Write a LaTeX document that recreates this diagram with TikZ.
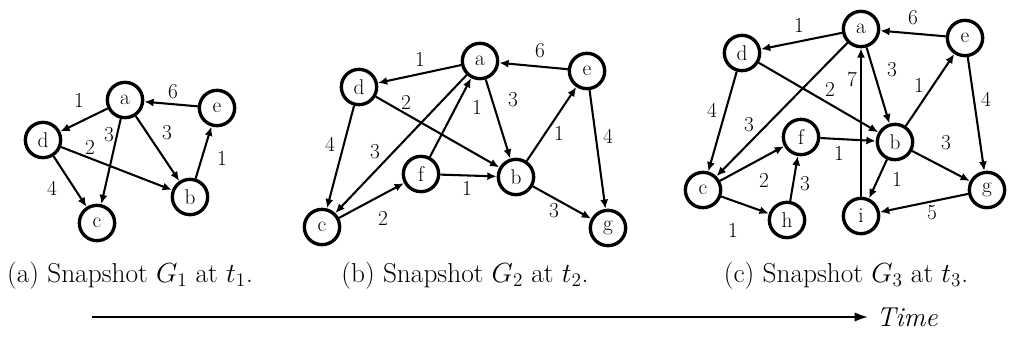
\documentclass[tikz,border=0pt]{standalone}
\usetikzlibrary{arrows.meta}
\begin{document}
\begin{tikzpicture}[x=0.75pt,y=-0.75pt,
  vtx/.style={circle,draw,line width=2.5pt,minimum size=26.5pt,inner sep=0pt,font=\fontsize{16}{18}\selectfont},
  arc/.style={line width=1.55pt,-{Latex[length=7pt,width=6pt]}},
  wt/.style={font=\fontsize{16}{18}\selectfont,inner sep=0pt},
  captext/.style={font=\fontsize{20.5}{24}\selectfont,inner sep=0pt,anchor=base}]
\useasboundingbox (0,0) rectangle (1009,337);

% ---------- G1 ----------
\node[vtx] (a1) at (125,100) {a};
\node[vtx] (e1) at (217,108) {e};
\node[vtx] (d1) at (43,140) {d};
\node[vtx] (b1) at (190,197) {b};
\node[vtx] (c1) at (97,223) {c};
\draw[arc] (a1) -- (d1);
\draw[arc] (e1) -- (a1);
\draw[arc] (a1) -- (c1);
\draw[arc] (a1) -- (b1);
\draw[arc] (d1) -- (b1);
\draw[arc] (d1) -- (c1);
\draw[arc] (b1) -- (e1);
\node[wt] (w1a) at (79,100) {1};
\node[wt] (w1b) at (173,92) {6};
\node[wt] (w1c) at (109,135) {3};
\node[wt] (w1d) at (167,133) {3};
\node[wt] (w1e) at (90,147) {2};
\node[wt] (w1f) at (52,188) {4};
\node[wt] (w1g) at (222,158) {1};

% ---------- G2 ----------
\node[vtx] (a2) at (480,61) {a};
\node[vtx] (d2) at (359,87) {d};
\node[vtx] (e2) at (587,71) {e};
\node[vtx] (f2) at (421,174) {f};
\node[vtx] (b2) at (516,177) {b};
\node[vtx] (c2) at (322,227) {c};
\node[vtx] (g2) at (608,228) {g};
\draw[arc] (a2) -- (d2);
\draw[arc] (e2) -- (a2);
\draw[arc] (a2) -- (b2);
\draw[arc] (a2) -- (c2);
\draw[arc] (f2) -- (a2);
\draw[arc] (d2) -- (b2);
\draw[arc] (d2) -- (c2);
\draw[arc] (c2) -- (f2);
\draw[arc] (f2) -- (b2);
\draw[arc] (b2) -- (e2);
\draw[arc] (b2) -- (g2);
\draw[arc] (e2) -- (g2);
\node[wt] (w2a) at (420,59) {1};
\node[wt] (w2b) at (540,51) {6};
\node[wt] (w2c) at (513,100) {3};
\node[wt] (w2d) at (477,107) {1};
\node[wt] (w2e) at (406,102) {2};
\node[wt] (w2f) at (330,144) {4};
\node[wt] (w2g) at (375,152) {3};
\node[wt] (w2h) at (559,133) {1};
\node[wt] (w2i) at (608,136) {4};
\node[wt] (w2j) at (467,188) {1};
\node[wt] (w2k) at (554,211) {3};
\node[wt] (w2l) at (383,218) {2};

% ---------- G3 ----------
\node[vtx] (a3) at (861,29) {a};
\node[vtx] (d3) at (742,53) {d};
\node[vtx] (e3) at (965,38) {e};
\node[vtx] (f3) at (801,137) {f};
\node[vtx] (b3) at (895,142) {b};
\node[vtx] (c3) at (703,190) {c};
\node[vtx] (h3) at (787,220) {h};
\node[vtx] (i3) at (861,216) {i};
\node[vtx] (g3) at (987,190) {g};
\draw[arc] (a3) -- (d3);
\draw[arc] (e3) -- (a3);
\draw[arc] (a3) -- (c3);
\draw[arc] (a3) -- (b3);
\draw[arc] (i3) -- (a3);
\draw[arc] (d3) -- (b3);
\draw[arc] (d3) -- (c3);
\draw[arc] (c3) -- (f3);
\draw[arc] (c3) -- (h3);
\draw[arc] (h3) -- (f3);
\draw[arc] (f3) -- (b3);
\draw[arc] (b3) -- (e3);
\draw[arc] (b3) -- (g3);
\draw[arc] (b3) -- (i3);
\draw[arc] (e3) -- (g3);
\draw[arc] (g3) -- (i3);
\node[wt] (w3a) at (799,25) {1};
\node[wt] (w3b) at (913,18) {6};
\node[wt] (w3c) at (892,70) {3};
\node[wt] (w3d) at (852,79) {7};
\node[wt] (w3e) at (830,89) {2};
\node[wt] (w3f) at (919,85) {1};
\node[wt] (w3g) at (986,99) {4};
\node[wt] (w3h) at (712,110) {4};
\node[wt] (w3i) at (749,125) {3};
\node[wt] (w3j) at (839,153) {1};
\node[wt] (w3k) at (946,143) {3};
\node[wt] (w3l) at (764,180) {2};
\node[wt] (w3m) at (805,184) {3};
\node[wt] (w3n) at (897,179) {1};
\node[wt] (w3o) at (733,230) {1};
\node[wt] (w3p) at (932,213) {5};

% ---------- captions ----------
\node[captext] (capa) at (130,282) {(a) Snapshot $G_1$ at $t_1$.};
\node[captext] (capb) at (465,282) {(b) Snapshot $G_2$ at $t_2$.};
\node[captext] (capc) at (846,282) {(c) Snapshot $G_3$ at $t_3$.};

% ---------- time axis ----------
\coordinate (t0) at (92,317);
\node[font=\fontsize{20.5}{24}\selectfont\itshape,anchor=west,inner sep=0pt] (time) at (876,317) {Time};
\draw[line width=1.5pt,-{Latex[length=10pt,width=7pt]}] (t0) -- ([xshift=-6pt]time.west);
\end{tikzpicture}
\end{document}
